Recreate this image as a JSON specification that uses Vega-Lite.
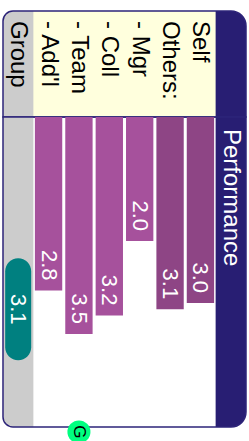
{
  "$schema": "https://vega.github.io/schema/vega-lite/v6.json",
  "padding": {"left": 2, "top": 10, "right": 4, "bottom": 0},
  "spacing": 0,
  "bounds": "flush",
  "config": {
    "view": {"stroke": null},
    "font": "Liberation Sans",
    "text": {"font": "Liberation Sans"}
  },
  "datasets": {
    "columns": [
      {"name": "Group", "section": "group"},
      {"name": "- Add'l", "section": "row"},
      {"name": "- Team", "section": "row"},
      {"name": "- Coll", "section": "row"},
      {"name": "- Mgr", "section": "row"},
      {"name": "Others:", "section": "row"},
      {"name": "Self", "section": "row"},
      {"name": "Performance", "section": "header"}
    ],
    "bars": [
      {"name": "Self", "rater": "main", "value": 3.0},
      {"name": "Others:", "rater": "main", "value": 3.1},
      {"name": "- Mgr", "rater": "sub", "value": 2.0},
      {"name": "- Coll", "rater": "sub", "value": 3.2},
      {"name": "- Team", "rater": "sub", "value": 3.5},
      {"name": "- Add'l", "rater": "sub", "value": 2.8}
    ],
    "group": [{"name": "Group", "value": 3.1}],
    "marker": [{"name": "- Team", "value": 5.08, "label": "G"}]
  },
  "vconcat": [
    {
      "width": 243,
      "height": 106,
      "layer": [
        {
          "data": {"values": [{}]},
          "mark": {"type": "rect", "fill": "#ffffdd", "cornerRadiusTopLeft": 10, "cornerRadiusTopRight": 15},
          "encoding": {}
        },
        {
          "data": {"name": "columns"},
          "transform": [{"filter": "datum.section == 'group'"}],
          "mark": {"type": "rect", "fill": "#cccccc", "cornerRadiusTopLeft": 10},
          "encoding": {
            "x": {"field": "name", "type": "nominal", "scale": {"domain": ["Group", "- Add'l", "- Team", "- Coll", "- Mgr", "Others:", "Self", "Performance"], "paddingInner": 0, "paddingOuter": 0}, "axis": null}
          }
        },
        {
          "data": {"name": "columns"},
          "transform": [{"filter": "datum.section == 'header'"}],
          "mark": {"type": "rect", "fill": "#281e73", "cornerRadiusTopRight": 15},
          "encoding": {
            "x": {"field": "name", "type": "nominal", "scale": {"domain": ["Group", "- Add'l", "- Team", "- Coll", "- Mgr", "Others:", "Self", "Performance"], "paddingInner": 0, "paddingOuter": 0}, "axis": null}
          }
        },
        {
          "data": {"values": [{}]},
          "mark": {"type": "rect", "filled": false, "stroke": "#2d2479", "strokeWidth": 1.5, "cornerRadiusTopLeft": 10, "cornerRadiusTopRight": 15},
          "encoding": {}
        },
        {
          "data": {"name": "columns"},
          "transform": [{"filter": "datum.section != 'header'"}],
          "mark": {"type": "text", "angle": 90, "align": "left", "baseline": "middle", "dx": -43, "fontSize": 24, "color": "#000000"},
          "encoding": {
            "x": {"field": "name", "type": "nominal", "scale": {"domain": ["Group", "- Add'l", "- Team", "- Coll", "- Mgr", "Others:", "Self", "Performance"], "paddingInner": 0, "paddingOuter": 0}, "axis": null},
            "text": {"field": "name", "type": "nominal"}
          }
        }
      ]
    },
    {
      "width": 243,
      "height": 310,
      "layer": [
        {
          "data": {"name": "columns"},
          "transform": [{"filter": "datum.section == 'group'"}],
          "mark": {"type": "rect", "fill": "#cccccc", "cornerRadiusBottomLeft": 10},
          "encoding": {
            "x": {"field": "name", "type": "nominal", "scale": {"domain": ["Group", "- Add'l", "- Team", "- Coll", "- Mgr", "Others:", "Self", "Performance"], "paddingInner": 0, "paddingOuter": 0}, "axis": null}
          }
        },
        {
          "data": {"name": "columns"},
          "transform": [{"filter": "datum.section == 'header'"}],
          "mark": {"type": "rect", "fill": "#281e73", "cornerRadiusBottomRight": 15},
          "encoding": {
            "x": {"field": "name", "type": "nominal", "scale": {"domain": ["Group", "- Add'l", "- Team", "- Coll", "- Mgr", "Others:", "Self", "Performance"], "paddingInner": 0, "paddingOuter": 0}, "axis": null}
          }
        },
        {
          "data": {"values": [{}]},
          "mark": {"type": "rect", "filled": false, "stroke": "#2d2479", "strokeWidth": 1.5, "cornerRadiusBottomLeft": 10, "cornerRadiusBottomRight": 15},
          "encoding": {}
        },
        {
          "data": {"name": "columns"},
          "transform": [{"filter": "datum.section == 'header'"}],
          "mark": {"type": "text", "angle": 90, "align": "left", "baseline": "middle", "dx": 12, "fontSize": 24, "color": "#ffffff"},
          "encoding": {
            "x": {"field": "name", "type": "nominal", "scale": {"domain": ["Group", "- Add'l", "- Team", "- Coll", "- Mgr", "Others:", "Self", "Performance"], "paddingInner": 0, "paddingOuter": 0}, "axis": null},
            "y": {"datum": 0, "type": "quantitative", "scale": {"domain": [0, 5], "reverse": true, "nice": false}, "axis": null},
            "text": {"field": "name", "type": "nominal"}
          }
        },
        {
          "data": {"name": "bars"},
          "mark": {"type": "bar", "width": {"band": 0.9}},
          "encoding": {
            "x": {"field": "name", "type": "nominal", "scale": {"domain": ["Group", "- Add'l", "- Team", "- Coll", "- Mgr", "Others:", "Self", "Performance"], "paddingInner": 0, "paddingOuter": 0}, "axis": null},
            "y": {"field": "value", "type": "quantitative", "scale": {"domain": [0, 5], "reverse": true, "nice": false}, "axis": null},
            "color": {"field": "rater", "type": "nominal", "scale": {"domain": ["main", "sub"], "range": ["#8e4585", "#a6519c"]}, "legend": null}
          }
        },
        {
          "data": {"name": "bars"},
          "mark": {"type": "text", "angle": 90, "align": "right", "baseline": "middle", "dx": -10, "color": "#ffffff", "fontSize": 22},
          "encoding": {
            "x": {"field": "name", "type": "nominal", "scale": {"domain": ["Group", "- Add'l", "- Team", "- Coll", "- Mgr", "Others:", "Self", "Performance"], "paddingInner": 0, "paddingOuter": 0}, "axis": null},
            "y": {"field": "value", "type": "quantitative", "scale": {"domain": [0, 5], "reverse": true, "nice": false}, "axis": null},
            "text": {"field": "value", "type": "quantitative", "format": ".1f"}
          }
        },
        {
          "data": {"name": "group"},
          "mark": {"type": "point", "shape": "M -0.255 -0.745 A 0.255 0.255 0 0 1 0.255 -0.745 L 0.255 0.745 A 0.255 0.255 0 0 1 -0.255 0.745 Z", "size": 10404, "filled": true, "color": "#008080", "opacity": 1, "strokeWidth": 0},
          "encoding": {
            "x": {"field": "name", "type": "nominal", "scale": {"domain": ["Group", "- Add'l", "- Team", "- Coll", "- Mgr", "Others:", "Self", "Performance"], "paddingInner": 0, "paddingOuter": 0}, "axis": null},
            "y": {"field": "value", "type": "quantitative", "scale": {"domain": [0, 5], "reverse": true, "nice": false}, "axis": null}
          }
        },
        {
          "data": {"name": "group"},
          "mark": {"type": "text", "angle": 90, "align": "center", "baseline": "middle", "color": "#ffffff", "fontSize": 22},
          "encoding": {
            "x": {"field": "name", "type": "nominal", "scale": {"domain": ["Group", "- Add'l", "- Team", "- Coll", "- Mgr", "Others:", "Self", "Performance"], "paddingInner": 0, "paddingOuter": 0}, "axis": null},
            "y": {"field": "value", "type": "quantitative", "scale": {"domain": [0, 5], "reverse": true, "nice": false}, "axis": null},
            "text": {"field": "value", "type": "quantitative", "format": ".1f"}
          }
        },
        {
          "data": {"name": "marker"},
          "mark": {"type": "point", "shape": "circle", "size": 531, "filled": true, "color": "#00ff80", "opacity": 1, "strokeWidth": 0},
          "encoding": {
            "x": {"field": "name", "type": "nominal", "scale": {"domain": ["Group", "- Add'l", "- Team", "- Coll", "- Mgr", "Others:", "Self", "Performance"], "paddingInner": 0, "paddingOuter": 0}, "axis": null},
            "y": {"field": "value", "type": "quantitative", "scale": {"domain": [0, 5], "reverse": true, "nice": false}, "axis": null}
          }
        },
        {
          "data": {"name": "marker"},
          "mark": {"type": "text", "angle": 90, "align": "center", "baseline": "middle", "color": "#000000", "fontSize": 17},
          "encoding": {
            "x": {"field": "name", "type": "nominal", "scale": {"domain": ["Group", "- Add'l", "- Team", "- Coll", "- Mgr", "Others:", "Self", "Performance"], "paddingInner": 0, "paddingOuter": 0}, "axis": null},
            "y": {"field": "value", "type": "quantitative", "scale": {"domain": [0, 5], "reverse": true, "nice": false}, "axis": null},
            "text": {"field": "label", "type": "nominal"}
          }
        }
      ]
    }
  ]
}
